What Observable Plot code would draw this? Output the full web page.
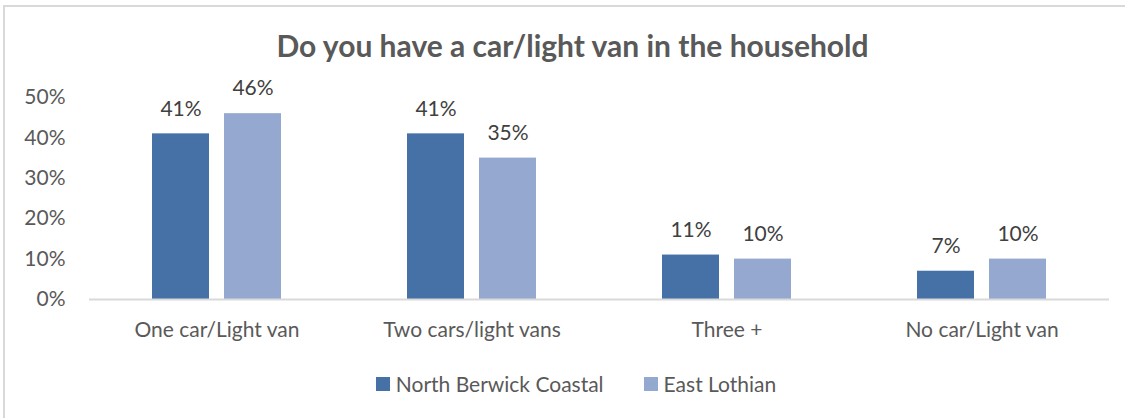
<!DOCTYPE html>
<html>
<head>
<meta charset="utf-8">
<script src="https://cdn.jsdelivr.net/npm/d3@7"></script>
<script src="https://cdn.jsdelivr.net/npm/@observablehq/plot@0.6"></script>
<style>
  html, body { margin: 0; padding: 0; background: #fff; }
  #wrap { position: relative; width: 1125px; height: 418px; overflow: hidden; font-family: Lato, "Open Sans", sans-serif; }
  #frame { position: absolute; left: 3px; top: 5px; width: 1140px; height: 430px; border: 2px solid #d9d9d9; box-sizing: border-box; }
  #title { position: absolute; left: 0; width: 1145px; top: 27px; text-align: center; font-weight: bold; font-size: 30px; line-height: 36px; color: #595959; }
  #chart { position: absolute; left: 0; top: 0; }
  #legend { position: absolute; left: 0; width: 1152px; top: 370px; text-align: center; font-size: 21px; line-height: 26px; color: #595959; }
  .item { display: inline-flex; align-items: center; margin: 0 20px; }
  .sw { width: 14px; height: 14px; display: inline-block; margin-right: 6px; }
</style>
</head>
<body>
<div id="wrap">
  <div id="frame"></div>
  <div id="title">Do you have a car/light van in the household</div>
  <div id="chart"></div>
  <div id="legend"></div>
</div>
<script>
const categories = ["One car/Light van", "Two cars/light vans", "Three +", "No car/Light van"];
const seriesNames = ["North Berwick Coastal", "East Lothian"];
const northBerwick = [0.41, 0.41, 0.11, 0.07];
const eastLothian = [0.46, 0.35, 0.10, 0.10];
const colors = ["#4571A7", "#95A9D0"];
const yTicks = [0, 0.1, 0.2, 0.3, 0.4, 0.5];

const data = [];
categories.forEach((c, i) => {
  data.push({category: c, series: seriesNames[0], value: northBerwick[i]});
  data.push({category: c, series: seriesNames[1], value: eastLothian[i]});
});

const fmt = d3.format(".0%");

const chart = Plot.plot({
  width: 1125,
  height: 418,
  marginTop: 97,
  marginBottom: 119,
  marginLeft: 88,
  marginRight: 15,
  style: {fontFamily: "Lato, 'Open Sans', sans-serif", fontSize: "21px", color: "#595959", background: "transparent", overflow: "visible"},
  fx: {domain: categories, padding: 0, label: null, axis: null},
  x: {domain: seriesNames, paddingInner: 0.207, paddingOuter: 0.866, axis: null},
  y: {domain: [0, 0.5], ticks: yTicks, label: null},
  color: {domain: seriesNames, range: colors},
  marks: [
    Plot.axisY({ticks: yTicks, tickFormat: fmt, tickSize: 0, tickPadding: 24, label: null, fill: "#595959", fontSize: 21}),
    Plot.axisFx({anchor: "bottom", tickSize: 0, tickPadding: 23, label: null, fill: "#595959", fontSize: 21}),
    Plot.barY(data, {fx: "category", x: "series", y: "value", fill: "series"}),
    Plot.ruleY([0], {stroke: "#d9d9d9", strokeWidth: 2}),
    Plot.text(data, {fx: "category", x: "series", y: "value", text: d => fmt(d.value), dy: -25, fill: "#404040", fontSize: 21})
  ]
});
document.getElementById("chart").appendChild(chart);

const legend = document.getElementById("legend");
seriesNames.forEach((s, i) => {
  const item = document.createElement("span");
  item.className = "item";
  const sw = document.createElement("span");
  sw.className = "sw";
  sw.style.background = colors[i];
  item.appendChild(sw);
  item.appendChild(document.createTextNode(s));
  legend.appendChild(item);
});
</script>
</body>
</html>
